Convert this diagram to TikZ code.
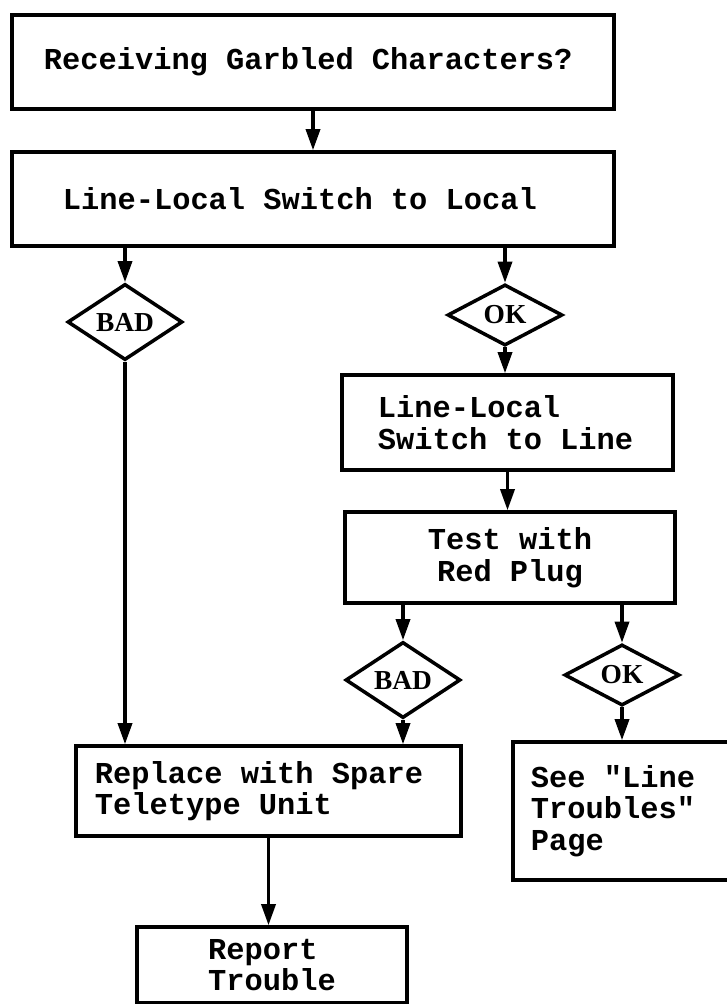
\documentclass[tikz,border=0pt]{standalone}
\usepackage{fontspec}
\setmonofont{Liberation Mono}
\newfontfamily\diafont{Liberation Serif}
\usetikzlibrary{shapes.geometric, arrows.meta}
\DeclareRobustCommand\boxfont{\ttfamily\bfseries\fontsize{21.6}{22.5}\selectfont}
\newcommand\fixedspaces{\spaceskip=\fontdimen2\font\xspaceskip=\fontdimen2\font\relax}

\begin{document}
\begin{tikzpicture}[
    x=0.025cm, y=-0.025cm,
    box/.style={draw, rectangle, line width=2.5pt, inner sep=0pt, align=left, font=\boxfont, execute at begin node=\fixedspaces},
    choice/.style={draw, diamond, line width=2.5pt, inner sep=0pt, minimum width=2.875cm, minimum height=1.375cm, font=\diafont\bfseries\fontsize{19.5}{21}\selectfont},
    arrow/.style={-{Triangle[length=15pt, width=10pt]}, line width=2.4pt}
]
\useasboundingbox (0,0) rectangle (726,1004);

% Question
\node[box, minimum width=15.05cm, minimum height=2.35cm, text width=13.45cm] (garbled) at (313, 62) {Receiving Garbled Characters?};

% First switch
\node[box, minimum width=15.05cm, minimum height=2.35cm, text width=12.5cm] (local) at (313, 199) {Line-Local Switch to Local};

% First result
\node[choice] (bad1) at (125, 322) {BAD};
\node[choice] (ok1) at (505, 315) {OK};

% Second switch and plug test
\node[box, minimum width=8.275cm, minimum height=2.375cm, text width=6.475cm] (line) at (507.5, 422.5) {Line-Local\\Switch to Line};
\node[box, align=center, minimum width=8.25cm, minimum height=2.275cm] (test) at (510, 557.5) {Test with\\Red Plug};

% Second result
\node[choice] (bad2) at (403, 680) {BAD};
\node[choice] (ok2) at (622, 675) {OK};

% Actions
\node[box, minimum width=9.625cm, minimum height=2.25cm, text width=8.675cm] (replace) at (268.5, 791) {Replace with Spare\\Teletype Unit};
\node[box, minimum width=5.675cm, minimum height=3.45cm, text width=4.775cm] (see) at (626.5, 811) {See "Line\\Troubles"\\Page\\[12pt]};
\node[box, minimum width=6.75cm, minimum height=1.9cm] (report) at (272, 965) {Report\\Trouble};

% Arrows
\draw[arrow] (garbled.south) -- (local.north);
\draw[arrow] (bad1 |- local.south) -- (bad1.north);
\draw[arrow] (ok1 |- local.south) -- (ok1.north);
\draw[arrow] (ok1.south) -- (ok1 |- line.north);
\draw[arrow] (line.south) -- (line.south |- test.north);
\draw[arrow] (bad2 |- test.south) -- (bad2.north);
\draw[arrow] (ok2 |- test.south) -- (ok2.north);
\draw[arrow] (bad1.south) -- (bad1 |- replace.north);
\draw[arrow] (bad2.south) -- (bad2 |- replace.north);
\draw[arrow] (ok2.south) -- (ok2 |- see.north);
\draw[arrow] (replace.south) -- (replace.south |- report.north);

\end{tikzpicture}
\end{document}
